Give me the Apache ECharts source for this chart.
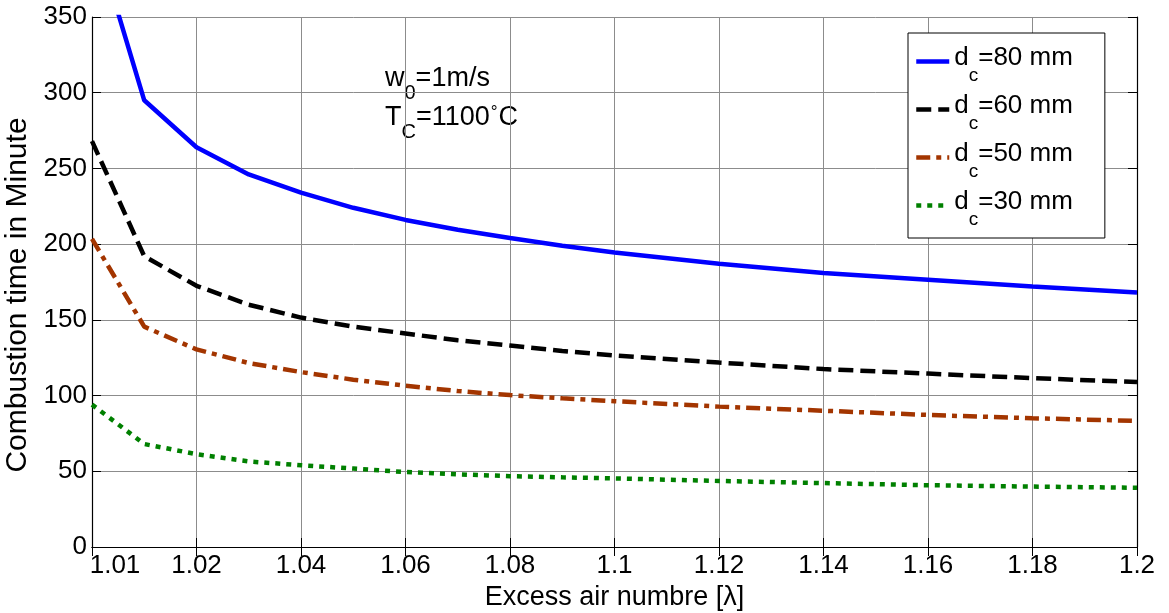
<!DOCTYPE html>
<html>
<head>
<meta charset="utf-8">
<script src="https://cdn.jsdelivr.net/npm/echarts@6/dist/echarts.min.js"></script>
<style>
html,body{margin:0;padding:0;background:#fff;}
#chart{width:1169px;height:613px;}
</style>
</head>
<body>
<div id="chart"></div>
<script>
// ---- data ----
const lambda = [1.00, 1.01, 1.02, 1.03, 1.04, 1.05, 1.06, 1.07, 1.08, 1.09, 1.10, 1.12, 1.14, 1.16, 1.18, 1.20];
const d80 = [410, 295, 264, 246, 234, 224, 216, 209.5, 204, 199, 194.5, 187, 181, 176.5, 172, 168];
const d60 = [268, 192, 172.5, 160, 151.5, 145.5, 141, 136.5, 133, 129.5, 126.5, 121.8, 117.5, 114.5, 111.5, 109];
const d50 = [203.5, 145.5, 130.5, 121.5, 115.5, 110.5, 106.5, 103, 100.3, 98.2, 96.3, 92.7, 90, 87.2, 85, 83.3];
const d30 = [94, 68, 61.3, 56.5, 54, 51.8, 49.5, 48, 46.8, 46, 45.3, 43.6, 42.2, 40.8, 39.9, 39.1];
const seriesNames = ['80', '60', '50', '30'];
const xTickLabels = ['1.01', '1.02', '1.04', '1.06', '1.08', '1.1', '1.12', '1.14', '1.16', '1.18', '1.2'];
const xMin = 1.0, xMax = 1.2, xInterval = 0.02;
const yMin = 0, yMax = 350, yInterval = 50;

const FONT = "'Liberation Sans', Arial, Helvetica, sans-serif";
const pairs = (ys) => lambda.map((x, i) => [x, ys[i]]);

const chart = echarts.init(document.getElementById('chart'), null, {renderer: 'canvas'});

const gridColor = '#8c8c8c';
const tickStyle = {show: true, inside: true, length: 9, lineStyle: {color: '#000', width: 1}};

const option = {
  backgroundColor: '#fff',
  animation: false,
  grid: {left: 92, right: 32, top: 17, bottom: 66, containLabel: false, outerBoundsMode: 'none'},
  xAxis: [{
    type: 'value', min: xMin, max: xMax, interval: xInterval,
    position: 'bottom',
    axisLine: {show: true, lineStyle: {color: '#000', width: 1.2}},
    axisTick: tickStyle,
    splitLine: {show: true, lineStyle: {color: gridColor, width: 1}},
    axisLabel: {
      show: true, margin: 6, color: '#000', fontSize: 26, fontFamily: FONT,
      formatter: function (v) {
        const idx = Math.round((v - xMin) / xInterval);
        const t = xTickLabels[idx];
        return idx === 0 ? '{first|' + t + '}' : t;
      },
      rich: {first: {fontSize: 26, fontFamily: FONT, color: '#000', padding: [0, 0, 0, 46]}}
    },
    name: 'Excess air numbre [\u03bb]', nameLocation: 'middle', nameGap: 27,
    nameTextStyle: {color: '#000', fontSize: 27, fontFamily: FONT}
  }, {
    type: 'value', min: xMin, max: xMax, interval: xInterval,
    position: 'top',
    axisLine: {show: true, lineStyle: {color: '#000', width: 1.2}},
    axisTick: tickStyle, splitLine: {show: false}, axisLabel: {show: false}
  }],
  yAxis: [{
    type: 'value', min: yMin, max: yMax, interval: yInterval,
    position: 'left',
    axisLine: {show: true, lineStyle: {color: '#000', width: 1.2}},
    axisTick: tickStyle,
    splitLine: {show: true, lineStyle: {color: gridColor, width: 1}},
    axisLabel: {show: true, margin: 5, color: '#000', fontSize: 26, fontFamily: FONT},
    name: 'Combustion time in Minute', nameLocation: 'middle', nameGap: 52,
    nameTextStyle: {color: '#000', fontSize: 30, fontFamily: FONT, padding: [0, 26, 0, 0]}
  }, {
    type: 'value', min: yMin, max: yMax, interval: yInterval,
    position: 'right',
    axisLine: {show: true, lineStyle: {color: '#000', width: 1.2}},
    axisTick: tickStyle, splitLine: {show: false}, axisLabel: {show: false}
  }],
  legend: {
    show: true, orient: 'vertical', left: 908, top: 33,
    padding: [12, 32, 9, 6], itemGap: 8, itemWidth: 33, itemHeight: 14,
    backgroundColor: '#fff', borderColor: '#000', borderWidth: 1, borderRadius: 0,
    data: seriesNames,
    itemStyle: {color: 'rgba(0,0,0,0)', borderWidth: 0, opacity: 0},
    lineStyle: {width: 4.5},
    formatter: function (name) { return '{m|d}{s|c}{m|=' + name + ' mm}'; },
    textStyle: {
      color: '#000', fontSize: 26, fontFamily: FONT,
      rich: {
        m: {fontSize: 26, fontFamily: FONT, color: '#000', padding: [0, 0, 7, 0]},
        s: {fontSize: 19, fontFamily: FONT, color: '#000', padding: [28, 0, 0, 0]}
      }
    }
  },
  graphic: [{
    type: 'text', x: 385, y: 79,
    style: {
      text: '{m|w}{s|0}{m|=1m/s}', verticalAlign: 'middle', align: 'left',
      rich: {
        m: {fontSize: 27, fontFamily: FONT, fill: '#000', padding: [0, 0, 0, 0]},
        s: {fontSize: 20, fontFamily: FONT, fill: '#000', padding: [28, 0, 0, 0]}
      }
    }
  }, {
    type: 'text', x: 385, y: 118,
    style: {
      text: '{m|T}{s|C}{m|=1100}{u|\u00b0}{m|C}', verticalAlign: 'middle', align: 'left',
      rich: {
        m: {fontSize: 27, fontFamily: FONT, fill: '#000'},
        s: {fontSize: 20, fontFamily: FONT, fill: '#000', padding: [28, 0, 0, 0]},
        u: {fontSize: 17, fontFamily: FONT, fill: '#000', padding: [0, 1, 12, 1]}
      }
    }
  }],
  series: [{
    name: '80', type: 'line', data: pairs(d80), showSymbol: false, symbol: 'none',
    clip: true, xAxisIndex: 0, yAxisIndex: 0,
    lineStyle: {color: '#0000ff', width: 4.5, type: 'solid'}, itemStyle: {color: '#0000ff'}
  }, {
    name: '60', type: 'line', data: pairs(d60), showSymbol: false, symbol: 'none',
    clip: true, xAxisIndex: 0, yAxisIndex: 0,
    lineStyle: {color: '#000000', width: 4.5, type: [15, 7]}, itemStyle: {color: '#000000'}
  }, {
    name: '50', type: 'line', data: pairs(d50), showSymbol: false, symbol: 'none',
    clip: true, xAxisIndex: 0, yAxisIndex: 0,
    lineStyle: {color: '#a33500', width: 4.5, type: [14, 6, 5, 6]}, itemStyle: {color: '#a33500'}
  }, {
    name: '30', type: 'line', data: pairs(d30), showSymbol: false, symbol: 'none',
    clip: true, xAxisIndex: 0, yAxisIndex: 0,
    lineStyle: {color: '#008000', width: 4.5, type: [5, 6]}, itemStyle: {color: '#008000'}
  }]
};
chart.setOption(option);
</script>
</body>
</html>
